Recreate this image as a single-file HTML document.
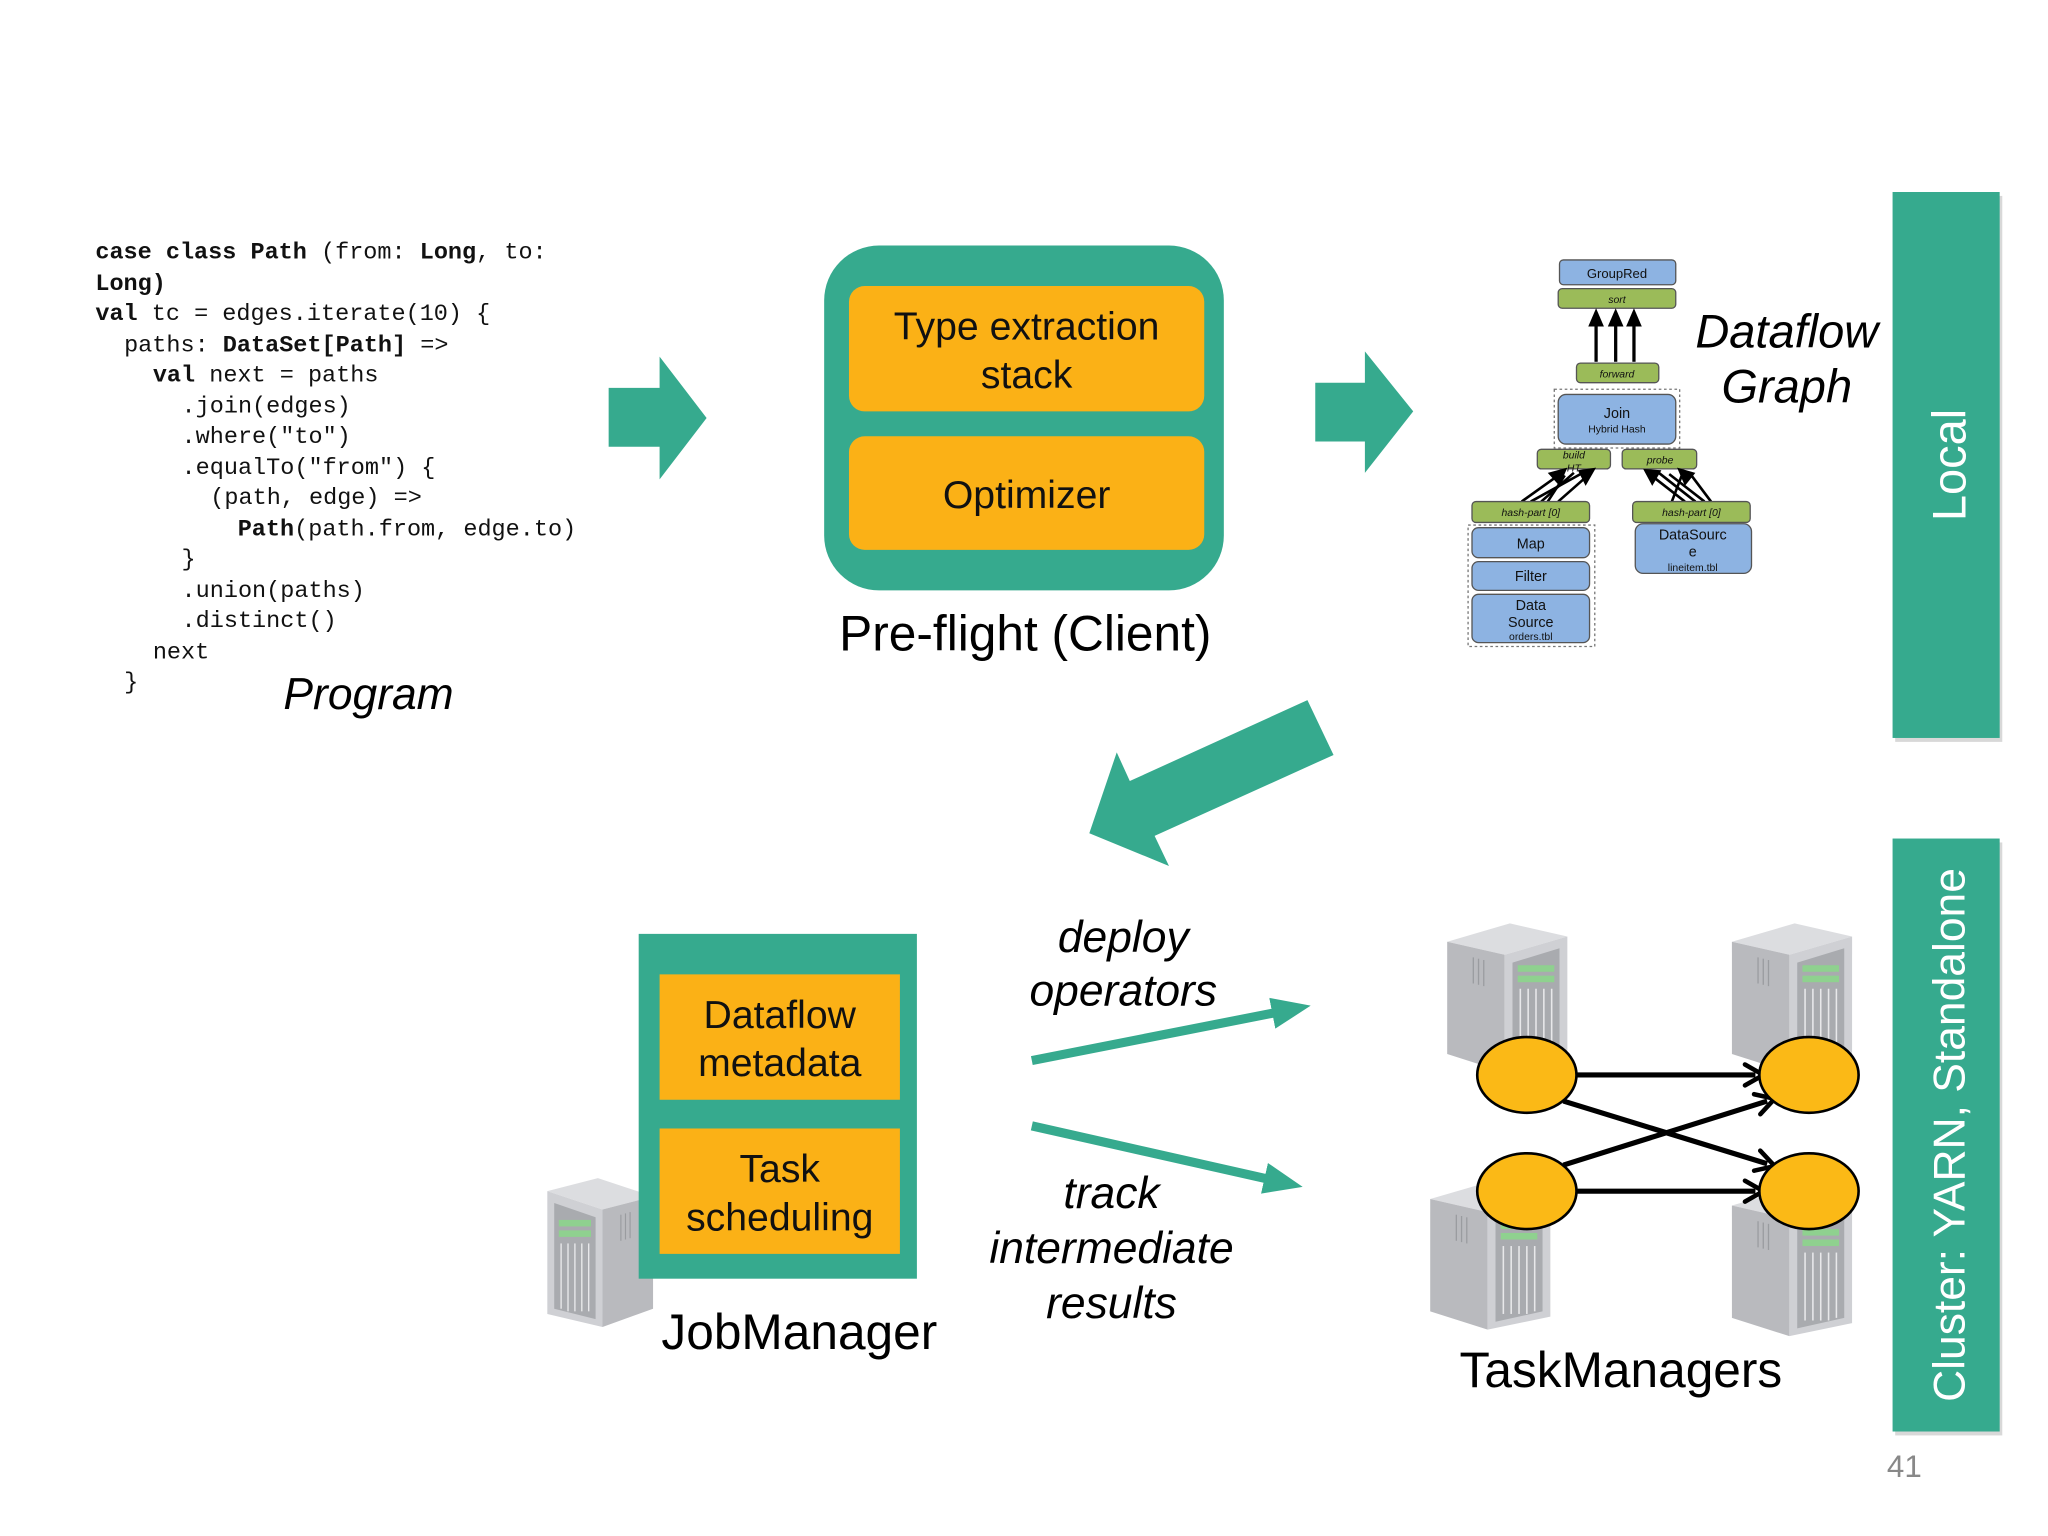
<!DOCTYPE html>
<html><head><meta charset="utf-8"><style>
html,body{margin:0;padding:0;background:#fff;}
svg{display:block;}
.code{font-family:"Liberation Mono",monospace;font-size:18px;fill:#111;}
.b{font-weight:bold;}
.s{font-family:"Liberation Sans",sans-serif;}
</style></head><body>
<svg width="2048" height="1536" viewBox="0 0 1568 1176" xmlns="http://www.w3.org/2000/svg">
<defs>
<g id="srv">
  <polygon points="0,18 48,4 92,14 44,28" fill="#dcdde0"/>
  <polygon points="0,18 44,28 44,118 0,104" fill="#b9babe"/>
  <polygon points="44,28 92,14 92,108 44,118" fill="#cfd0d4"/>
  <polygon points="50,34 86,23 86,104 50,112" fill="#a9abaf"/>
  <rect x="54" y="36" width="28" height="5" fill="#8fd18f"/>
  <rect x="54" y="44" width="28" height="5" fill="#8fd18f"/>
  <g stroke="#e8e8ea" stroke-width="1.2">
    <line x1="56" y1="54" x2="56" y2="106"/><line x1="62" y1="54" x2="62" y2="106"/>
    <line x1="68" y1="54" x2="68" y2="106"/><line x1="74" y1="54" x2="74" y2="106"/><line x1="80" y1="54" x2="80" y2="104"/>
  </g>
  <g stroke="#9a9ca0" stroke-width="1"><line x1="20" y1="30" x2="20" y2="50"/><line x1="24" y1="31" x2="24" y2="51"/><line x1="28" y1="32" x2="28" y2="52"/></g>
</g>
<marker id="ah2" markerWidth="20" markerHeight="20" refX="10" refY="10" orient="auto" markerUnits="userSpaceOnUse" viewBox="0 0 20 20">
  <path d="M2,2 L16,10 L2,18" fill="none" stroke="#000" stroke-width="3.5" stroke-linecap="round"/>
</marker>
<marker id="ta" markerWidth="30" markerHeight="30" refX="4" refY="15" orient="auto" markerUnits="userSpaceOnUse" viewBox="0 0 30 30">
  <polygon points="0,3 30,15 0,27" fill="#36AA8E"/>
</marker>
</defs>

<g class="code">
<text x="73" y="198"><tspan class="b">case class Path</tspan> (from: <tspan class="b">Long</tspan>, to:</text>
<text x="73" y="222" class="b">Long)</text>
<text x="73" y="245"><tspan class="b">val</tspan> tc = edges.iterate(10) {</text>
<text x="95" y="269">paths: <tspan class="b">DataSet[Path]</tspan> =&gt;</text>
<text x="117" y="292"><tspan class="b">val</tspan> next = paths</text>
<text x="139" y="316">.join(edges)</text>
<text x="139" y="339">.where("to")</text>
<text x="139" y="363">.equalTo("from") {</text>
<text x="161" y="386">(path, edge) =&gt;</text>
<text x="182" y="410"><tspan class="b">Path</tspan>(path.from, edge.to)</text>
<text x="139" y="433">}</text>
<text x="139" y="457">.union(paths)</text>
<text x="139" y="480">.distinct()</text>
<text x="117" y="504">next</text>
<text x="95" y="527">}</text>
</g>
<text x="217" y="543" class="s" font-size="34" font-style="italic">Program</text>

<polygon points="466,297 505,297 505,273 541,320 505,367 505,342 466,342" fill="#36AA8E"/>

<rect x="631" y="188" width="306" height="264" rx="42" fill="#36AA8E"/>
<rect x="650" y="219" width="272" height="96" rx="12" fill="#FBB116"/>
<rect x="650" y="334" width="272" height="87" rx="12" fill="#FBB116"/>
<g class="s" font-size="30" text-anchor="middle" fill="#111">
<text x="786" y="260">Type extraction</text>
<text x="786" y="297">stack</text>
<text x="786" y="389">Optimizer</text>
</g>
<text x="785" y="498" class="s" font-size="38" text-anchor="middle">Pre-flight (Client)</text>

<polygon points="1007,293 1045,293 1045,269 1082,315 1045,362 1045,338 1007,338" fill="#36AA8E"/>

<g class="s" text-anchor="middle" fill="#111" stroke-width="1">
<rect x="1194" y="199" width="89" height="19" rx="3" fill="#8DB3E2" stroke="#555"/>
<text x="1238" y="213" font-size="10">GroupRed</text>
<rect x="1193" y="221" width="90" height="15" rx="3" fill="#9BBB59" stroke="#555"/>
<text x="1238" y="232" font-size="8" font-style="italic">sort</text>
<g stroke="#000" stroke-width="2.5"><line x1="1222" y1="277" x2="1222" y2="240"/><line x1="1237" y1="277" x2="1237" y2="240"/><line x1="1251" y1="277" x2="1251" y2="240"/></g>
<polygon points="1216,250 1222,236 1228,250" fill="#000"/><polygon points="1231,250 1237,236 1243,250" fill="#000"/><polygon points="1245,250 1251,236 1257,250" fill="#000"/>
<rect x="1207" y="278" width="63" height="15" rx="3" fill="#9BBB59" stroke="#555"/>
<text x="1238" y="289" font-size="8" font-style="italic">forward</text>
<rect x="1190" y="298" width="96" height="45" fill="none" stroke="#777" stroke-dasharray="2,2"/>
<rect x="1193" y="302" width="90" height="38" rx="6" fill="#8DB3E2" stroke="#555"/>
<text x="1238" y="320" font-size="11">Join</text>
<text x="1238" y="331" font-size="8">Hybrid Hash</text>
<rect x="1177" y="344" width="56" height="15" rx="3" fill="#9BBB59" stroke="#555"/>
<text x="1205" y="351" font-size="8" font-style="italic">build</text>
<text x="1205" y="361" font-size="8" font-style="italic">HT</text>
<rect x="1242" y="344" width="57" height="15" rx="3" fill="#9BBB59" stroke="#555"/>
<text x="1271" y="355" font-size="8" font-style="italic">probe</text>
<g stroke="#000" stroke-width="2">
<line x1="1165" y1="384" x2="1193" y2="364"/><line x1="1180" y1="384" x2="1205" y2="362"/><line x1="1193" y1="384" x2="1218" y2="362"/><line x1="1172" y1="384" x2="1210" y2="363"/><line x1="1185" y1="384" x2="1198" y2="364"/>
<line x1="1290" y1="384" x2="1263" y2="363"/><line x1="1305" y1="384" x2="1278" y2="363"/><line x1="1280" y1="384" x2="1288" y2="363"/><line x1="1298" y1="384" x2="1270" y2="362"/><line x1="1310" y1="384" x2="1295" y2="364"/>
</g>
<polygon points="1185,362 1200,358 1194,372" fill="#000"/><polygon points="1208,360 1222,358 1214,372" fill="#000"/>
<polygon points="1258,359 1272,360 1265,372" fill="#000"/><polygon points="1284,358 1298,362 1290,372" fill="#000"/>
<rect x="1127" y="384" width="90" height="16" rx="3" fill="#9BBB59" stroke="#555"/>
<text x="1172" y="395" font-size="8" font-style="italic">hash-part [0]</text>
<rect x="1250" y="384" width="90" height="16" rx="3" fill="#9BBB59" stroke="#555"/>
<text x="1295" y="395" font-size="8" font-style="italic">hash-part [0]</text>
<rect x="1124" y="402" width="97" height="93" fill="none" stroke="#777" stroke-dasharray="2,2"/>
<rect x="1127" y="404" width="90" height="23" rx="5" fill="#8DB3E2" stroke="#555"/>
<text x="1172" y="420" font-size="11">Map</text>
<rect x="1127" y="430" width="90" height="22" rx="5" fill="#8DB3E2" stroke="#555"/>
<text x="1172" y="445" font-size="11">Filter</text>
<rect x="1127" y="455" width="90" height="37" rx="5" fill="#8DB3E2" stroke="#555"/>
<text x="1172" y="467" font-size="11">Data</text>
<text x="1172" y="480" font-size="11">Source</text>
<text x="1172" y="490" font-size="8">orders.tbl</text>
<rect x="1252" y="401" width="89" height="38" rx="6" fill="#8DB3E2" stroke="#555"/>
<text x="1296" y="413" font-size="11">DataSourc</text>
<text x="1296" y="426" font-size="11">e</text>
<text x="1296" y="437" font-size="8">lineitem.tbl</text>
</g>
<g class="s" font-size="36" font-style="italic" text-anchor="middle">
<text x="1368" y="266">Dataflow</text>
<text x="1368" y="308">Graph</text>
</g>

<rect x="1451" y="150" width="82" height="418" fill="#d8d8d8"/>
<rect x="1449" y="147" width="82" height="418" fill="#36AA8E"/>
<text transform="translate(1505,356) rotate(-90)" class="s" font-size="36" fill="#fff" text-anchor="middle">Local</text>
<rect x="1451" y="645" width="82" height="454" fill="#d8d8d8"/>
<rect x="1449" y="642" width="82" height="454" fill="#36AA8E"/>
<text transform="translate(1504,869) rotate(-90)" class="s" font-size="34" fill="#fff" text-anchor="middle">Cluster: YARN, Standalone</text>

<polygon points="1001,536 1021,578 884,640 895,663 834,638 855,576 865,598" fill="#36AA8E"/>

<use href="#srv" transform="translate(500,898) scale(-0.88,1)"/>
<rect x="489" y="715" width="213" height="264" fill="#36AA8E"/>
<rect x="505" y="746" width="184" height="96" fill="#FBB116"/>
<rect x="505" y="864" width="184" height="96" fill="#FBB116"/>
<g class="s" font-size="30" text-anchor="middle" fill="#111">
<text x="597" y="787">Dataflow</text>
<text x="597" y="824">metadata</text>
<text x="597" y="905">Task</text>
<text x="597" y="942">scheduling</text>
</g>
<text x="612" y="1033" class="s" font-size="38" text-anchor="middle">JobManager</text>

<g class="s" font-size="34" font-style="italic" text-anchor="middle">
<text x="860" y="729">deploy</text>
<text x="860" y="770">operators</text>
<text x="851" y="925">track</text>
<text x="851" y="967">intermediate</text>
<text x="851" y="1009">results</text>
</g>
<line x1="790" y1="812" x2="978" y2="775" stroke="#36AA8E" stroke-width="7" marker-end="url(#ta)"/>
<line x1="790" y1="862" x2="972" y2="903" stroke="#36AA8E" stroke-width="7" marker-end="url(#ta)"/>

<use href="#srv" transform="translate(1108,703)"/>
<use href="#srv" transform="translate(1326,703)"/>
<use href="#srv" transform="translate(1095,900)"/>
<use href="#srv" transform="translate(1326,905)"/>
<g stroke="#000" stroke-width="4" fill="none">
<line x1="1207" y1="823" x2="1344" y2="823" marker-end="url(#ah2)"/>
<line x1="1207" y1="912" x2="1344" y2="912" marker-end="url(#ah2)"/>
<line x1="1197" y1="843" x2="1353" y2="891" marker-end="url(#ah2)"/>
<line x1="1197" y1="892" x2="1353" y2="843" marker-end="url(#ah2)"/>
</g>
<g fill="#FBB916" stroke="#000" stroke-width="2">
<ellipse cx="1169" cy="823" rx="38" ry="29"/>
<ellipse cx="1385" cy="823" rx="38" ry="29"/>
<ellipse cx="1169" cy="912" rx="38" ry="29"/>
<ellipse cx="1385" cy="912" rx="38" ry="29"/>
</g>
<text x="1241" y="1062" class="s" font-size="38" text-anchor="middle">TaskManagers</text>

<text x="1458" y="1131" class="s" font-size="24" fill="#888" text-anchor="middle">41</text>
</svg>
</body></html>
